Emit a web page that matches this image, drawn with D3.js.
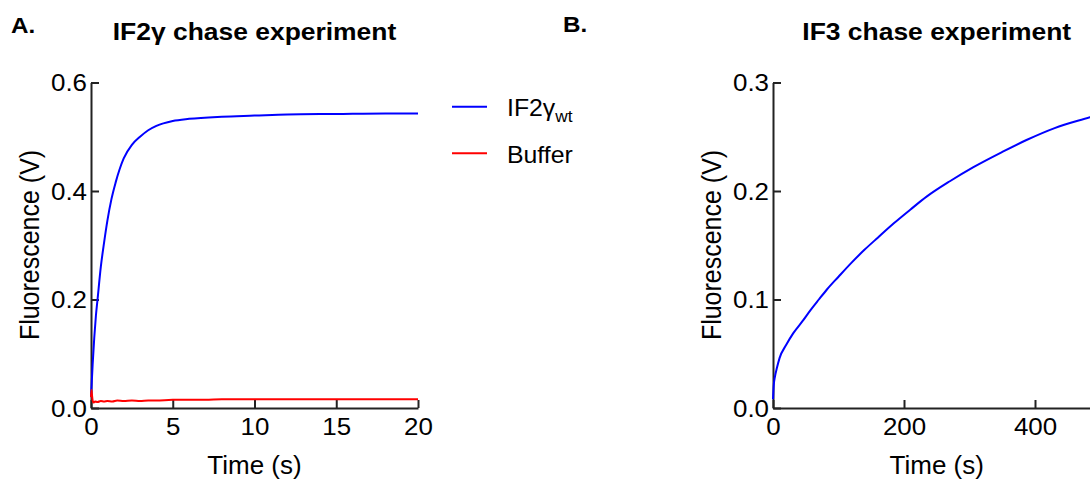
<!DOCTYPE html>
<html lang="en">
    <head>
        <meta charset="utf-8">
        <title>Chase experiments</title>
        <script src="https://cdn.jsdelivr.net/npm/d3@7"></script>
        <style type="text/css">
            body { margin: 0; background: #fff; }
            svg text { font-family: "Liberation Sans", Arial, sans-serif; fill: #000; }
        </style>
    </head>
    <body>
        <div id="chart"></div>
        <script>
            // Panel A: IF2gamma chase (time in s, fluorescence in V)
            var timeA   = [0, 0.05, 0.1, 0.2, 0.3, 0.4, 0.6, 0.8, 1.0, 1.25, 1.5, 1.75, 2.0, 2.5, 3.0, 3.5, 4.0, 5.0, 6.0, 8.0, 10.0, 12.0, 15.0, 18.0, 20.0];
            var if2Wt   = [0.02, 0.05, 0.08, 0.13, 0.17, 0.20, 0.26, 0.305, 0.345, 0.385, 0.415, 0.44, 0.46, 0.485, 0.50, 0.512, 0.52, 0.529, 0.533, 0.537, 0.539, 0.541, 0.542, 0.543, 0.543];
            var timeBuf = [0, 0.03, 0.06, 0.1, 0.15, 0.25, 0.4, 0.6, 0.8, 1.0, 1.3, 1.6, 2.0, 2.5, 3.0, 3.5, 4.0, 5.0, 6.0, 7.0, 8.0, 10.0, 12.0, 14.0, 16.0, 18.0, 20.0];
            var buffer  = [0.02, 0.033, 0.024, 0.014, 0.010, 0.012, 0.011, 0.013, 0.012, 0.013, 0.012, 0.014, 0.013, 0.014, 0.013, 0.014, 0.014, 0.015, 0.015, 0.015, 0.016, 0.016, 0.016, 0.016, 0.016, 0.016, 0.016];

            // Panel B: IF3 chase
            var timeB = [0, 1, 3, 6, 10, 20, 31, 45, 57, 70, 82, 100, 120, 140, 160, 184, 210, 235, 270, 306, 350, 387, 430, 484, 500];
            var if3   = [0.008, 0.020, 0.029, 0.037, 0.046, 0.058, 0.069, 0.080, 0.090, 0.100, 0.109, 0.121, 0.134, 0.146, 0.157, 0.170, 0.183, 0.195, 0.209, 0.222, 0.236, 0.247, 0.258, 0.268, 0.271];

            var ticksAx = [0, 5, 10, 15, 20],  ticksAy = [0, 0.2, 0.4, 0.6];
            var ticksBx = [0, 200, 400],       ticksBy = [0, 0.1, 0.2, 0.3];

            var W = 1090, H = 482;
            var svg = d3.select("#chart").append("svg")
                .attr("width", W)
                .attr("height", H);

            // text a bit wider than the font draws it (the figure was stretched)
            function label(txt, x, y, size, s, anchor, weight, rot) {
                var t = svg.append("text")
                    .attr("transform", "translate(" + x + "," + y + ")" + (rot ? " rotate(-90) scale(1," + s + ")" : " scale(" + s + ",1)"))
                    .style("font-size", size + "px")
                    .style("font-weight", weight || "normal")
                    .attr("text-anchor", anchor)
                    .text(txt);
                return t;
            }

            function panel(opt) {
                var x = d3.scaleLinear().domain(opt.xDomain).range(opt.xRange);
                var y = d3.scaleLinear().domain(opt.yDomain).range([408, 82.5]);
                var S = 1.08;

                var gx = svg.append("g")
                    .attr("transform", "translate(0,408)")
                    .call(d3.axisBottom(x).tickValues(opt.xTicks).tickSize(-8).tickSizeOuter(0).tickPadding(10)
                        .tickFormat(d3.format("d")));
                var gy = svg.append("g")
                    .attr("transform", "translate(" + opt.xRange[0] + ",0)")
                    .call(d3.axisLeft(y).tickValues(opt.yTicks).tickSize(-8).tickSizeOuter(0)
                        .tickFormat(d3.format(".1f")));

                [gx, gy].forEach(function(g) {
                    g.selectAll("path, line").attr("stroke", "#222").attr("stroke-width", 2);
                    g.selectAll("text")
                        .attr("font-family", null).attr("font-size", null)
                        .style("font-size", "24px");
                });
                gx.selectAll("text").attr("transform", "scale(" + S + ",1)");
                gy.selectAll("text").attr("x", -4 / S).attr("dy", "0.35em")
                    .attr("transform", "scale(" + S + ",1)");

                var line = d3.line()
                    .x(function(d) { return x(d[0]); })
                    .y(function(d) { return y(d[1]); })
                    .curve(d3.curveMonotoneX);

                opt.series.forEach(function(s) {
                    svg.append("path")
                        .datum(d3.zip(s.t, s.v))
                        .attr("fill", "none")
                        .attr("stroke", s.color)
                        .attr("stroke-width", 2)
                        .attr("d", line);
                });

                var cx = (opt.xRange[0] + opt.xRange[1]) / 2;
                label("Time (s)", cx, 474, 25, 1.04, "middle");
                label("Fluorescence (V)", opt.xRange[0] - 52, 245, 25, 1.1, "middle", null, true);
                label(opt.title, cx, 39.5, 23, 1.15, "middle", "bold");
            }

            panel({
                xDomain: [0, 20], xRange: [91, 418], xTicks: ticksAx,
                yDomain: [0, 0.6], yTicks: ticksAy,
                title: "IF2γ chase experiment",
                series: [
                    { t: timeA, v: if2Wt, color: "#0000ff" },
                    { t: timeBuf, v: buffer, color: "#ff0000" }
                ]
            });

            panel({
                xDomain: [0, 500], xRange: [773, 1100.5], xTicks: ticksBx,
                yDomain: [0, 0.3], yTicks: ticksBy,
                title: "IF3 chase experiment",
                series: [
                    { t: timeB, v: if3, color: "#0000ff" }
                ]
            });

            label("A.", 11, 33, 22, 1.1, "start", "bold");
            label("B.", 563, 32, 22, 1.1, "start", "bold");

            // Legend
            var legend = [
                { name: "IF2γ", sub: "wt", color: "#0000ff", y: 106.7 },
                { name: "Buffer", sub: null, color: "#ff0000", y: 153.3 }
            ];
            legend.forEach(function(d) {
                svg.append("line")
                    .attr("x1", 452).attr("x2", 487)
                    .attr("y1", d.y).attr("y2", d.y)
                    .attr("stroke", d.color).attr("stroke-width", 2);
                var t = label(d.name, 507, d.y + 9.5, 23, 1.08, "start");
                if (d.sub) {
                    t.append("tspan")
                        .attr("dy", 6)
                        .style("font-size", "16px")
                        .text(d.sub);
                }
            });
        </script>
    </body>
</html>
